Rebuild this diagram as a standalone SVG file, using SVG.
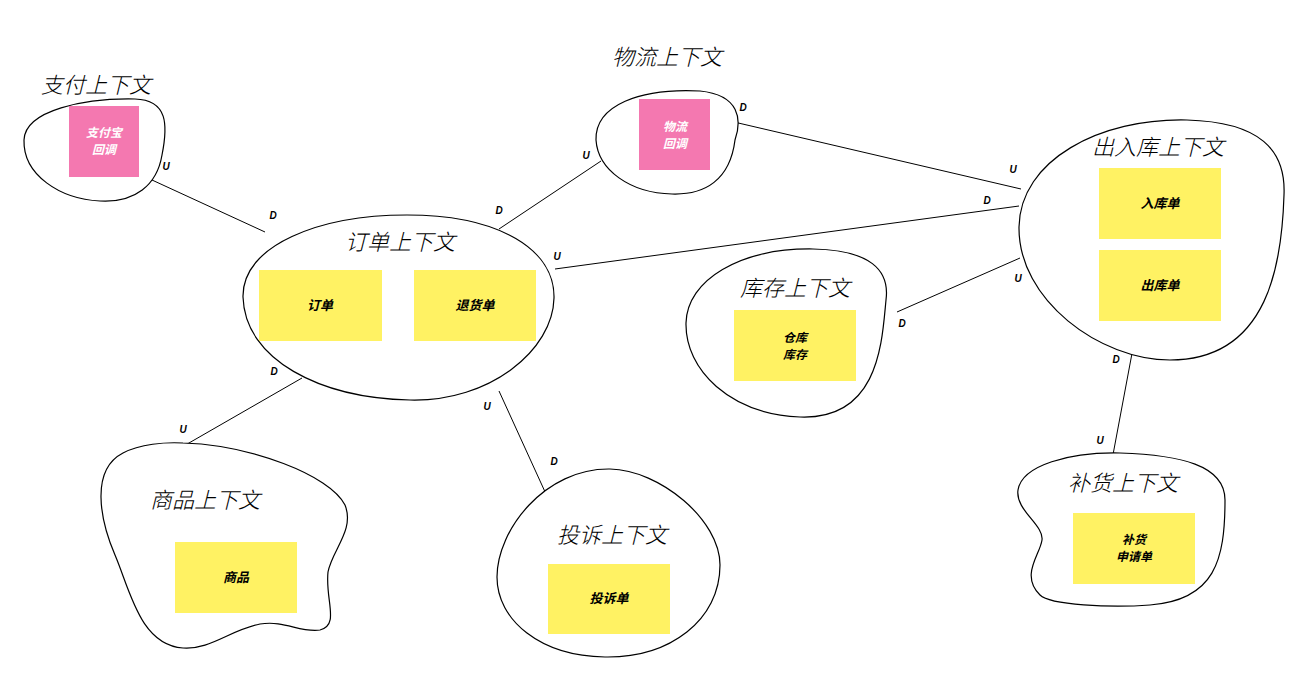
<svg xmlns="http://www.w3.org/2000/svg" width="1308" height="675" viewBox="0 0 1308 675">
<style>
.blob{fill:#fff;stroke:#000;stroke-width:1.2}
.title{font-family:"Noto Sans CJK SC","Liberation Sans",sans-serif;font-size:22px;font-style:italic;font-weight:300;fill:#000;text-anchor:middle}
.y{fill:#fff263}
.p{fill:#f478b0}
.it{font-family:"Noto Sans CJK SC","Liberation Sans",sans-serif;font-size:13px;font-style:italic;font-weight:bold;text-anchor:middle;fill:#000}
.it2{font-family:"Noto Sans CJK SC","Liberation Sans",sans-serif;font-size:12px;font-style:italic;font-weight:bold;text-anchor:middle;fill:#000}
.w{fill:#fff}
.lbl{font-family:"Liberation Sans","Noto Sans CJK SC",sans-serif;font-size:10px;font-style:italic;font-weight:bold;text-anchor:middle;fill:#000}
.ln{stroke:#000;stroke-width:1;fill:none}
</style>
<rect width="1308" height="675" fill="#fff"/>
<g id="edges">
<line class="ln" x1="152" y1="180" x2="265" y2="232"/>
<line class="ln" x1="499" y1="229" x2="601" y2="161"/>
<line class="ln" x1="734" y1="122" x2="1021" y2="189"/>
<line class="ln" x1="555" y1="269" x2="1019" y2="206"/>
<line class="ln" x1="897" y1="312" x2="1020" y2="258"/>
<line class="ln" x1="302" y1="378" x2="182" y2="447"/>
<line class="ln" x1="499" y1="391" x2="546" y2="494"/>
<line class="ln" x1="1133" y1="348" x2="1112" y2="460"/>
<text class="lbl" x="166" y="170">U</text>
<text class="lbl" x="273" y="219">D</text>
<text class="lbl" x="499" y="214">D</text>
<text class="lbl" x="586" y="159">U</text>
<text class="lbl" x="743" y="111">D</text>
<text class="lbl" x="1013" y="173">U</text>
<text class="lbl" x="557" y="260">U</text>
<text class="lbl" x="987" y="204">D</text>
<text class="lbl" x="902" y="327">D</text>
<text class="lbl" x="1018" y="282">U</text>
<text class="lbl" x="274" y="375">D</text>
<text class="lbl" x="183" y="433">U</text>
<text class="lbl" x="487" y="410">U</text>
<text class="lbl" x="554" y="465">D</text>
<text class="lbl" x="1116" y="363">D</text>
<text class="lbl" x="1100" y="444">U</text>
</g>
<g id="payment">
<path class="blob" d="M 135,99 C 168,100 168,125 162,155 C 157,185 135,203 100,201 C 60,199 23,175 24,140 C 25,110 85,98 135,99 Z"/>
<text class="title" x="96" y="93">支付上下文</text>
<rect class="p" x="69" y="106" width="70" height="71"/>
<text class="it2 w" x="104" y="136.5">支付宝</text>
<text class="it2 w" x="104" y="154">回调</text>
</g>
<g id="logistics">
<path class="blob" d="M 700,91 C 740,95 742,120 735,140 C 730,180 705,195 672,194 C 630,193 598,170 596,140 C 595,105 640,88 700,91 Z"/>
<text class="title" x="667" y="65">物流上下文</text>
<rect class="p" x="639" y="99" width="71" height="71"/>
<text class="it2 w" x="675" y="130.5">物流</text>
<text class="it2 w" x="675" y="148">回调</text>
</g>
<g id="order">
<path class="blob" d="M 407,215 C 500,215 555,250 554,298 C 553,350 490,402 410,400 C 320,398 245,360 243,297 C 242,245 320,215 407,215 Z"/>
<text class="title" x="400" y="250">订单上下文</text>
<rect class="y" x="259" y="270" width="123" height="71"/>
<text class="it" x="320" y="310">订单</text>
<rect class="y" x="414" y="270" width="122" height="71"/>
<text class="it" x="475" y="310">退货单</text>
</g>
<g id="inout">
<path class="blob" d="M 1187,120 C 1260,122 1286,150 1284,195 C 1282,260 1270,360 1170,360 C 1100,360 1018,300 1019,227 C 1020,160 1100,118 1187,120 Z"/>
<text class="title" x="1158" y="155">出入库上下文</text>
<rect class="y" x="1099" y="168" width="122" height="71"/>
<text class="it" x="1160" y="208">入库单</text>
<rect class="y" x="1099" y="250" width="122" height="71"/>
<text class="it" x="1160" y="290">出库单</text>
</g>
<g id="inventory">
<path class="blob" d="M 813,249 C 870,250 890,270 886,300 C 882,340 880,420 800,417 C 730,414 685,370 686,323 C 687,280 740,248 813,249 Z"/>
<text class="title" x="795" y="296">库存上下文</text>
<rect class="y" x="734" y="310" width="122" height="71"/>
<text class="it2" x="795" y="341.5">仓库</text>
<text class="it2" x="795" y="359">库存</text>
</g>
<g id="product">
<path class="blob" d="M 183,443 C 250,445 330,475 345,505 C 355,530 332,550 328,572 C 325,600 340,625 320,630 C 300,633 285,620 260,624 C 230,630 210,650 183,648 C 140,645 130,590 115,555 C 100,520 90,470 123,453 C 140,444 165,442 183,443 Z"/>
<text class="title" x="205" y="508">商品上下文</text>
<rect class="y" x="175" y="542" width="122" height="71"/>
<text class="it" x="236" y="582">商品</text>
</g>
<g id="complaint">
<path class="blob" d="M 610,469 C 660,470 720,520 720,565 C 720,620 670,658 605,657 C 540,656 497,620 497,577 C 497,530 545,468 610,469 Z"/>
<text class="title" x="612" y="543">投诉上下文</text>
<rect class="y" x="548" y="564" width="122" height="70"/>
<text class="it" x="609" y="603">投诉单</text>
</g>
<g id="replenish">
<path class="blob" d="M 1120,453 C 1180,455 1225,465 1225,500 C 1225,560 1215,600 1150,605 C 1110,608 1050,605 1040,595 C 1020,575 1040,555 1042,540 C 1044,525 1015,510 1018,490 C 1022,465 1070,452 1120,453 Z"/>
<text class="title" x="1123" y="491">补货上下文</text>
<rect class="y" x="1073" y="513" width="122" height="71"/>
<text class="it2" x="1134" y="543.5">补货</text>
<text class="it2" x="1134" y="561">申请单</text>
</g>
</svg>
